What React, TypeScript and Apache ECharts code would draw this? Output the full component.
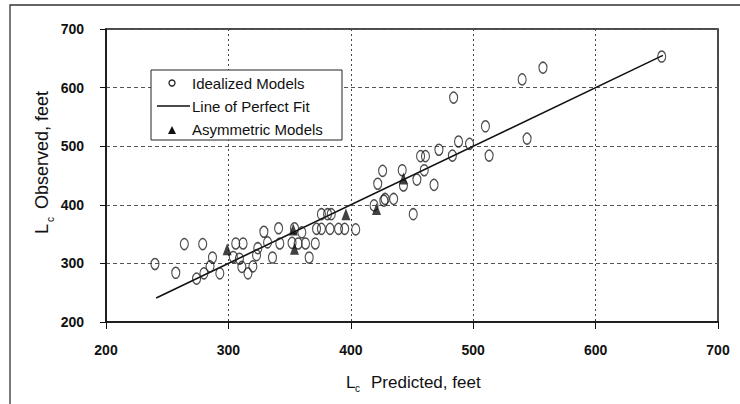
import React, { useEffect, useRef } from "react";
import * as echarts from "echarts";

const xTicks = [200, 300, 400, 500, 600, 700];
const yTicks = [200, 300, 400, 500, 600, 700];

const idealizedModels: [number, number][] = [
  [240, 299], [257, 284], [264, 333], [279, 333], [274, 274], [280, 283],
  [287, 310], [285, 295], [293, 283], [306, 334], [312, 334], [304, 311],
  [309, 308], [311, 294], [316, 283], [320, 295], [323, 314], [324, 326],
  [329, 354], [332, 336], [336, 310], [341, 360], [342, 334], [354, 360],
  [352, 335], [357, 334], [360, 353], [363, 334], [371, 334], [366, 310],
  [372, 359], [376, 359], [383, 359], [376, 384], [381, 384], [384, 384],
  [390, 359], [395, 359], [404, 358], [419, 399], [422, 436], [427, 407],
  [426, 458], [428, 410], [435, 410], [442, 459], [443, 433], [451, 384],
  [454, 443], [457, 483], [461, 483], [460, 459], [468, 434], [472, 494],
  [483, 484], [484, 583], [488, 508], [497, 504], [510, 534], [513, 484],
  [540, 614], [544, 513], [557, 634], [654, 653],
];

const asymmetricModels: [number, number][] = [
  [299, 324], [353, 358], [354, 325], [396, 384], [421, 393], [443, 445],
];

const perfectFit: [number, number][] = [
  [241, 241], [655, 655],
];

const FONT = "Liberation Sans, Arial, sans-serif";

export default function App() {
  const ref = useRef<HTMLDivElement>(null);
  useEffect(() => {
    if (!ref.current) return;
    const chart = echarts.init(ref.current, null, { renderer: "svg" });
    chart.setOption({
      animation: false,
      backgroundColor: "#ffffff",
      grid: {
        left: 106,
        right: 22,
        top: 29,
        bottom: 82,
        show: true,
        borderColor: "#111",
        borderWidth: 1.5,
        backgroundColor: "transparent",
      },
      xAxis: {
        type: "value",
        min: xTicks[0],
        max: xTicks[xTicks.length - 1],
        interval: 100,
        axisLine: { show: true, lineStyle: { color: "#111", width: 1.5 } },
        axisTick: { show: true, inside: false, length: 7, lineStyle: { color: "#111", width: 1 } },
        axisLabel: {
          margin: 21,
          color: "#111",
          fontFamily: FONT,
          fontWeight: "bold",
          fontSize: 14,
          showMaxLabel: true,
          showMinLabel: true,
        },
        splitLine: { show: true, lineStyle: { color: "#444", width: 1, type: [2, 3] } },
      },
      yAxis: {
        type: "value",
        min: yTicks[0],
        max: yTicks[yTicks.length - 1],
        interval: 100,
        axisLine: { show: true, lineStyle: { color: "#111", width: 1.5 } },
        axisTick: { show: true, inside: false, length: 6, lineStyle: { color: "#111", width: 1 } },
        axisLabel: {
          margin: 22,
          color: "#111",
          fontFamily: FONT,
          fontWeight: "bold",
          fontSize: 14,
          showMaxLabel: true,
          showMinLabel: true,
        },
        splitLine: { show: true, lineStyle: { color: "#555", width: 1, type: [4, 3] } },
      },
      series: [
        {
          name: "Line of Perfect Fit",
          type: "line",
          data: perfectFit,
          symbol: "none",
          lineStyle: { color: "#111", width: 1.6 },
          z: 3,
        },
        {
          name: "Idealized Models",
          type: "scatter",
          data: idealizedModels,
          symbol: "circle",
          symbolSize: [8, 11],
          itemStyle: { color: "rgba(255,255,255,0)", borderColor: "#222", borderWidth: 1.3 },
          z: 4,
        },
        {
          name: "Asymmetric Models",
          type: "scatter",
          data: asymmetricModels,
          symbol: "triangle",
          symbolSize: [9, 12],
          itemStyle: { color: "#111" },
          z: 5,
        },
      ],
      graphic: [
        {
          type: "rect",
          shape: { x: 10, y: 5, width: 800, height: 500 },
          style: { fill: "none", stroke: "#333", lineWidth: 1.3 },
          silent: true,
          z: 1,
        },
        {
          type: "rect",
          shape: { x: 151, y: 70, width: 191, height: 70 },
          style: { fill: "#fff", stroke: "#222", lineWidth: 1 },
          z: 10,
        },
        {
          type: "circle",
          shape: { cx: 172, cy: 83, r: 3 },
          style: { fill: "none", stroke: "#222", lineWidth: 1.3 },
          z: 11,
        },
        {
          type: "text",
          x: 192,
          y: 83,
          style: { text: "Idealized Models", fontSize: 15, fontFamily: FONT, fill: "#111", align: "left", verticalAlign: "middle" },
          z: 11,
        },
        {
          type: "line",
          shape: { x1: 157, y1: 106, x2: 190, y2: 106 },
          style: { stroke: "#111", lineWidth: 1.6 },
          z: 11,
        },
        {
          type: "text",
          x: 192,
          y: 106,
          style: { text: "Line of Perfect Fit", fontSize: 15, fontFamily: FONT, fill: "#111", align: "left", verticalAlign: "middle" },
          z: 11,
        },
        {
          type: "polygon",
          shape: { points: [[172, 126], [168, 134], [176, 134]] },
          style: { fill: "#111" },
          z: 11,
        },
        {
          type: "text",
          x: 192,
          y: 129,
          style: { text: "Asymmetric Models", fontSize: 15, fontFamily: FONT, fill: "#111", align: "left", verticalAlign: "middle" },
          z: 11,
        },
        {
          type: "text",
          x: 346,
          y: 382,
          style: { text: "L", fontSize: 17, fontFamily: FONT, fill: "#111", align: "left", verticalAlign: "middle" },
        },
        {
          type: "text",
          x: 355,
          y: 388,
          style: { text: "c", fontSize: 10, fontFamily: FONT, fill: "#111", align: "left", verticalAlign: "middle" },
        },
        {
          type: "text",
          x: 371,
          y: 382,
          style: { text: "Predicted, feet", fontSize: 17, fontFamily: FONT, fill: "#111", align: "left", verticalAlign: "middle" },
        },
        {
          type: "text",
          x: 42,
          y: 234,
          rotation: Math.PI / 2,
          style: { text: "L", fontSize: 18, fontFamily: FONT, fill: "#111", align: "left", verticalAlign: "middle" },
        },
        {
          type: "text",
          x: 50,
          y: 222,
          rotation: Math.PI / 2,
          style: { text: "c", fontSize: 10, fontFamily: FONT, fill: "#111", align: "left", verticalAlign: "middle" },
        },
        {
          type: "text",
          x: 42,
          y: 209,
          rotation: Math.PI / 2,
          style: { text: "Observed, feet", fontSize: 18, fontFamily: FONT, fill: "#111", align: "left", verticalAlign: "middle" },
        },
      ],
    });
    return () => chart.dispose();
  }, []);
  return (
    <div
      ref={ref}
      style={{ position: "fixed", left: 0, top: 0, width: 740, height: 404, background: "#fff" }}
    />
  );
}
